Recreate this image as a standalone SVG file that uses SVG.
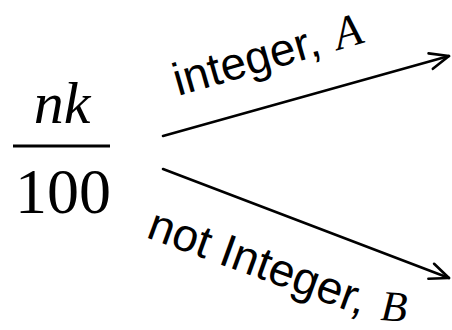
<svg xmlns="http://www.w3.org/2000/svg" width="452" height="330" viewBox="0 0 452 330">
<style>
.m{font-family:"Liberation Serif","Times New Roman",serif;fill:#000}
.i{font-style:italic}
.l{font-family:"Liberation Sans",Arial,sans-serif;font-size:46px;fill:#000}
.c{stroke:#000;stroke-width:2.6;fill:none;stroke-linecap:round;stroke-linejoin:round}
</style>
<defs>
<marker id="ah" markerWidth="24" markerHeight="24" viewBox="-22 -12 24 24" refX="0" refY="0" orient="auto" markerUnits="userSpaceOnUse">
<path d="M-19,-8 L0,0 L-19,8" class="c"/>
</marker>
</defs>
<g id="fraction">
<text class="m i" x="62" y="123" font-size="60" text-anchor="middle">nk</text>
<line x1="13" y1="146" x2="110" y2="146" stroke="#000" stroke-width="3"/>
<text class="m" x="63" y="213" font-size="64" text-anchor="middle">100</text>
</g>
<g id="connectors">
<line class="c" x1="163" y1="136" x2="449" y2="56" marker-end="url(#ah)"/>
<line class="c" x1="163" y1="169" x2="449" y2="278" marker-end="url(#ah)"/>
</g>
<g id="label-a">
<text class="l" transform="translate(178,96) rotate(-16)">integer, <tspan class="m i" dx="3">A</tspan></text>
</g>
<g id="label-b">
<text class="l" transform="translate(145,237) rotate(20)">not Integer,</text>
<text class="m i" font-size="43" transform="translate(380,320) rotate(4)">B</text>
</g>
</svg>
